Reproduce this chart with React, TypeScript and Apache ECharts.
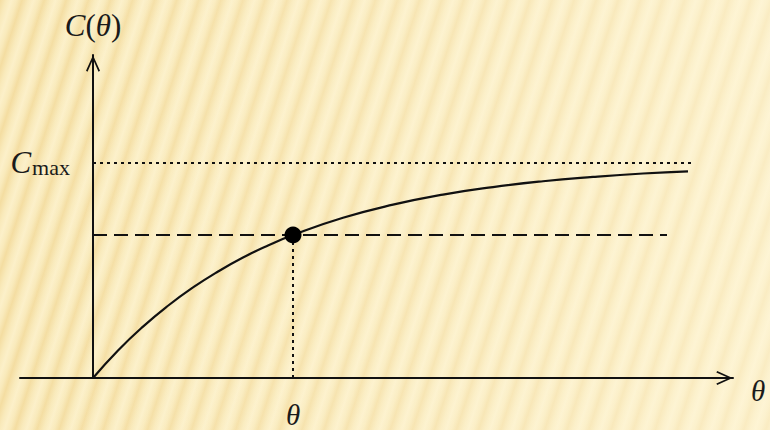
import { useEffect, useRef } from "react";
import * as echarts from "echarts";

// Values (Cmax normalised to 1; θ in arbitrary units)
const thetaValues = [0, 0.25, 0.5, 0.75, 1, 1.25, 1.5, 1.75, 2, 2.5, 3, 3.5, 4, 4.5, 5, 5.5, 5.95];
const cValues = [0, 0.128, 0.239, 0.336, 0.421, 0.495, 0.56, 0.616, 0.665, 0.745, 0.806, 0.853, 0.888, 0.915, 0.935, 0.951, 0.961];
const markedTheta = 2;
const markedC = 0.665;
const cMax = 1;
const cMaxLineEnd = 6.02;
const levelLineEnd = 5.74;
const thetaRange = [-0.73, 6.4];
const cRange = [0, 1.502];

const serif = '"Liberation Serif", "DejaVu Serif", serif';
const ink = "#111111";
const arrowPath = "path://M7,0 L14,15.5 L12.5,16.3 L7,4 L1.5,16.3 L0,15.5 Z";

const italic = { fontFamily: serif, fontStyle: "italic" as const, fontSize: 31, color: "#1a1a1a" };
const upright = { fontFamily: serif, fontStyle: "normal" as const, fontSize: 31, color: "#1a1a1a" };

export default function App() {
  const ref = useRef<HTMLDivElement>(null);

  useEffect(() => {
    if (!ref.current) return;
    const chart = echarts.init(ref.current, undefined, { renderer: "svg" });
    const curve = thetaValues.map((t, i) => [t, cValues[i]]);
    chart.setOption({
      animation: false,
      backgroundColor: "transparent",
      grid: { left: 20, right: 37, top: 55, bottom: 52, containLabel: false, outerBoundsMode: "none" },
      xAxis: {
        type: "value",
        min: thetaRange[0],
        max: thetaRange[1],
        axisLine: {
          onZero: true,
          symbol: ["none", arrowPath],
          symbolSize: [14, 17],
          symbolOffset: [0, -8.5],
          lineStyle: { color: ink, width: 2 },
        },
        axisTick: { show: false },
        splitLine: { show: false },
        axisLabel: {
          customValues: [markedTheta],
          formatter: () => "{t|θ}",
          margin: 22,
          rich: { t: { ...italic, fontSize: 29 } },
        },
        name: "θ",
        nameLocation: "end",
        nameGap: 18,
        nameTextStyle: { ...italic, fontSize: 29, verticalAlign: "top", lineHeight: 26 },
      },
      yAxis: {
        type: "value",
        min: cRange[0],
        max: cRange[1],
        axisLine: {
          onZero: true,
          symbol: ["none", arrowPath],
          symbolSize: [14, 17],
          symbolOffset: [0, -8.5],
          lineStyle: { color: ink, width: 2 },
        },
        axisTick: { show: false },
        splitLine: { show: false },
        axisLabel: {
          customValues: [cMax],
          formatter: () => "{c|C}{s|max}",
          margin: -50,
          rich: {
            c: { ...italic, fontSize: 31 },
            s: { ...upright, fontSize: 22, padding: [10, 0, 0, 1] },
          },
        },
        name: "{i|C}{r|(}{i|θ}{r|)}",
        nameLocation: "end",
        nameGap: 14,
        nameTextStyle: { rich: { i: italic, r: upright } },
      },
      series: [
        {
          type: "line",
          data: curve,
          smooth: true,
          showSymbol: false,
          silent: true,
          lineStyle: { color: ink, width: 2.2 },
          z: 3,
          markLine: {
            silent: true,
            symbol: ["none", "none"],
            label: { show: false },
            data: [
              [
                { coord: [0, cMax], lineStyle: { color: ink, width: 2, type: [3, 4] } },
                { coord: [cMaxLineEnd, cMax] },
              ],
              [
                { coord: [0, markedC], lineStyle: { color: ink, width: 2, type: [14, 7] } },
                { coord: [levelLineEnd, markedC] },
              ],
              [
                { coord: [markedTheta, 0], lineStyle: { color: ink, width: 2, type: [3, 4] } },
                { coord: [markedTheta, markedC] },
              ],
            ],
          },
        },
        {
          type: "scatter",
          data: [[markedTheta, markedC]],
          symbolSize: 17,
          itemStyle: { color: "#000", opacity: 1 },
          silent: true,
          z: 5,
        },
      ],
    });
    return () => chart.dispose();
  }, []);

  return (
    <div
      style={{
        position: "fixed",
        left: 0,
        top: 0,
        width: 770,
        height: 430,
        background:
          "linear-gradient(to right, rgba(255,249,224,0) 0%, rgba(255,248,222,0.55) 100%), " +
          "repeating-linear-gradient(108deg, #f4dda1 0px, #f9eabb 6px, #fcf0c9 11px, #f9eabb 16px, #f4dda1 21px)",
      }}
    >
      <div ref={ref} style={{ width: 770, height: 430 }} />
    </div>
  );
}
